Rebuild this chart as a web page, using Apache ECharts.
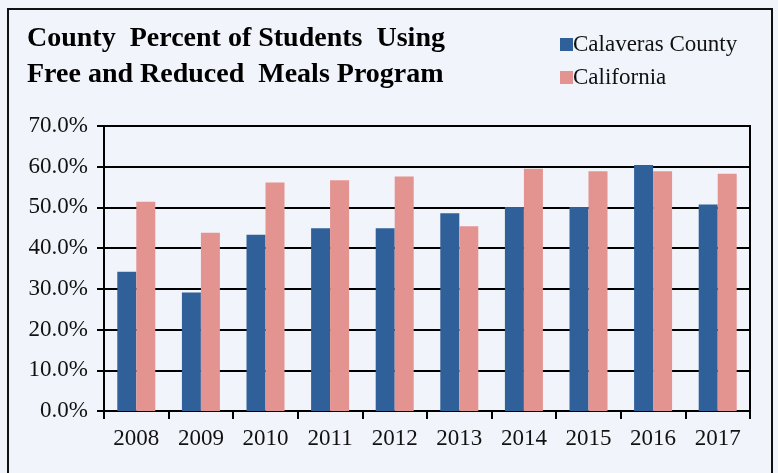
<!DOCTYPE html>
<html><head><meta charset="utf-8">
<script src="https://cdn.jsdelivr.net/npm/echarts@6/dist/echarts.min.js"></script>
<style>html,body{margin:0;padding:0;background:#fff}#c{width:778px;height:473px}</style>
</head><body><div id="c"></div>
<script>
const years = ['2008','2009','2010','2011','2012','2013','2014','2015','2016','2017'];
const county = [0.342, 0.291, 0.433, 0.449, 0.449, 0.486, 0.501, 0.501, 0.604, 0.507];
const california = [0.514, 0.438, 0.561, 0.567, 0.576, 0.454, 0.595, 0.589, 0.589, 0.583];
const seriesNames = ['Calaveras County', 'California'];
const titleText = 'County  Percent of Students  Using\nFree and Reduced  Meals Program';

const chart = echarts.init(document.getElementById('c'));
const font = 'Liberation Serif';
chart.setOption({
  backgroundColor: '#f1f5fb',
  animation: false,
  graphic: [{type:'rect', shape:{x:8, y:9, width:764, height:470}, style:{fill:'none', stroke:'#111', lineWidth:2}}],
  title: {
    text: titleText, left: 22, top: 16,
    textStyle: {fontFamily: font, fontWeight: 'bold', fontSize: 28, lineHeight: 36, color: '#000'}
  },
  legend: {
    orient: 'vertical', left: 555, top: 28, itemGap: 10, itemWidth: 13, itemHeight: 13,
    icon: 'rect',
    textStyle: {fontFamily: font, fontSize: 23, color: '#111', padding: [0,0,0,-5]},
    data: seriesNames
  },
  grid: {left: 104, right: 28, top: 126, bottom: 62, show: true, borderColor: '#000', borderWidth: 2},
  xAxis: {
    type: 'category', data: years,
    axisLine: {lineStyle: {color: '#000', width: 2}},
    axisTick: {show: true, length: 8, lineStyle: {color: '#000', width: 2}},
    axisLabel: {fontFamily: font, fontSize: 23, color: '#111', margin: 16}
  },
  yAxis: {
    type: 'value', min: 0, max: 0.7, interval: 0.1,
    axisLine: {show: true, lineStyle: {color: '#000', width: 2}},
    axisTick: {show: true, length: 7, lineStyle: {color: '#000', width: 2}},
    splitLine: {lineStyle: {color: '#000', width: 2}},
    axisLabel: {fontFamily: font, fontSize: 23, color: '#111', margin: 16,
      formatter: v => (v*100).toFixed(1) + '%'}
  },
  series: [
    {name: seriesNames[0], type: 'bar', data: county, barWidth: 19, barGap: '0%', itemStyle: {color: '#30609a'}},
    {name: seriesNames[1], type: 'bar', data: california, barWidth: 19, barGap: '0%', itemStyle: {color: '#e39390'}}
  ]
});
</script></body></html>
